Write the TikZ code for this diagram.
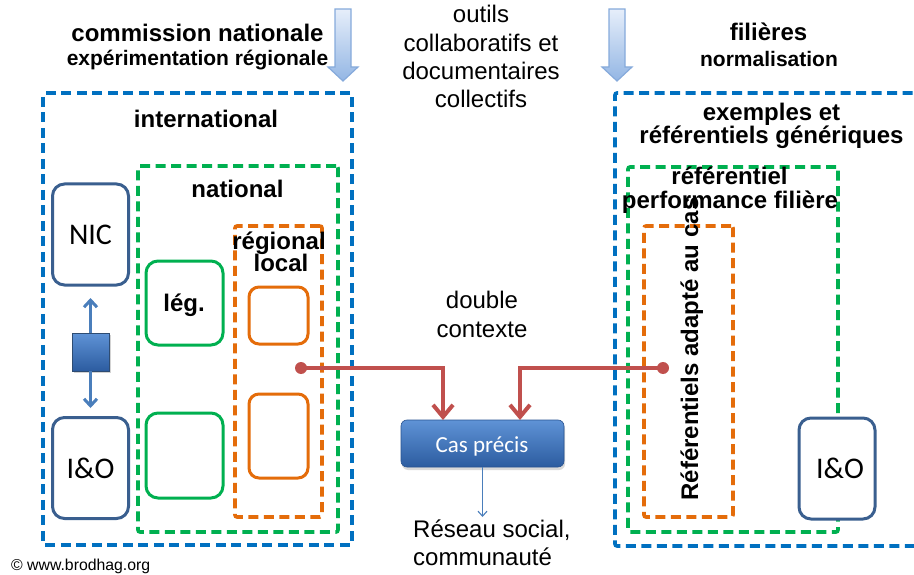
\documentclass[tikz,border=0pt]{standalone}
\usepackage{fontspec}
\setmainfont{Liberation Sans}
\newfontfamily\carlito{Carlito}
\usetikzlibrary{arrows.meta,shadows}
\definecolor{dblue}{HTML}{0070C0}
\definecolor{dgreen}{HTML}{00B050}
\definecolor{dorange}{HTML}{E46C0A}
\definecolor{navy}{HTML}{3A5F8F}
\definecolor{redc}{HTML}{C0504D}
\definecolor{midblue}{HTML}{4A7EBB}
\definecolor{arrtop}{HTML}{E6EEFA}
\definecolor{arrbot}{HTML}{93B6E4}
\definecolor{arredge}{HTML}{86AADB}
\definecolor{castop}{HTML}{5F93D6}
\definecolor{casbot}{HTML}{2C5CA0}
\begin{document}
\begin{tikzpicture}[x=1pt,y=-1pt,
  cont/.style={draw, line width=3.6pt, dash pattern=on 10pt off 5.5pt, rounded corners=2pt, inner sep=0pt},
  bluecont/.style={cont, draw=dblue},
  greencont/.style={cont, draw=dgreen},
  orangecont/.style={cont, draw=dorange},
  navybox/.style={draw=navy, line width=3pt, rounded corners=12pt, fill=white, inner sep=0pt, minimum width=76pt, minimum height=101pt},
  greenbox/.style={draw=dgreen, line width=3pt, rounded corners=12pt, fill=white, inner sep=0pt, minimum width=77pt},
  orangebox/.style={draw=dorange, line width=3pt, rounded corners=10pt, fill=white, inner sep=0pt, minimum width=59pt},
  hb/.style={font=\bfseries\fontsize{24}{24}\selectfont, anchor=base, inner sep=0pt},
  hs/.style={font=\bfseries\fontsize{21}{21}\selectfont, anchor=base, inner sep=0pt},
  tx/.style={font=\fontsize{24}{24}\selectfont, anchor=base, inner sep=0pt},
  cl/.style={font=\carlito\fontsize{30}{30}\selectfont, anchor=base, inner sep=0pt},
  redarr/.style={draw=redc, line width=4pt, -{Straight Barb[length=12pt,width=20pt]}},
  dotc/.style={circle, fill=redc, inner sep=0pt, minimum size=12pt},
  bluearr/.style={draw=midblue, line width=3pt, -{Straight Barb[length=7pt,width=13pt]}},
  bigarrow/.style={top color=arrtop, bottom color=arrbot, draw=arredge, line width=1.2pt}
]
\useasboundingbox (0,0) rectangle (914,575);
\clip (0,0) rectangle (914,575);

% top block arrows
\path[bigarrow] (335,9) -- (351,9) -- (351,67) -- (358,67) -- (343,81) -- (328,67) -- (335,67) -- cycle;
\path[bigarrow] (609,9) -- (625,9) -- (625,67) -- (632,67) -- (617,81) -- (602,67) -- (609,67) -- cycle;

% containers
\node[bluecont, minimum width=309pt, minimum height=452pt] (intl) at (197.5,319) {};
\node[greencont, minimum width=200pt, minimum height=366pt] (natl) at (238,349) {};
\node[orangecont, minimum width=87pt, minimum height=291pt] (regl) at (278.5,371.5) {};
\node[bluecont, minimum width=315pt, minimum height=453pt] (gen) at (772.5,319.5) {};
\node[greencont, minimum width=210pt, minimum height=365pt] (perf) at (733,349.5) {};
\node[orangecont, minimum width=89pt, minimum height=291pt] (adap) at (688.5,371.5) {};

% header texts
\node[hb] (t1) at (197.5,42) {commission nationale};
\node[hs] (t2) at (197.5,66) {expérimentation régionale};
\node[tx] (o1) at (481,23) {outils};
\node[tx] (o2) at (481,52) {collaboratifs et};
\node[tx] (o3) at (481,80) {documentaires};
\node[tx] (o4) at (481,108) {collectifs};
\node[hb] (f1) at (768.5,41) {filières};
\node[hs] (f2) at (769,67) {normalisation};

\node[hb] (lint) at (206,128) {international};
\node[hb] (lnat) at (237.5,198) {national};
\node[hb] (lreg1) at (279,250) {régional};
\node[hb] (lreg2) at (281,272) {local};
\node[hb] (lex1) at (771.5,121) {exemples et};
\node[hb] (lex2) at (771.5,144) {référentiels génériques};
\node[hb] (lrf1) at (729.5,185) {référentiel};
\node[hb] (lrf2) at (730,208) {performance filière};

% left boxes
\node[navybox] (nic) at (90.5,234.5) {};
\node[cl] at (90.5,244) {NIC};
\node[navybox] (io1) at (90.5,468) {};
\node[cl] at (90.5,478) {I\&O};
\node[draw=navy!80!black, line width=0.8pt, top color=castop, bottom color=casbot, minimum width=37pt, minimum height=38pt, inner sep=0pt,
  drop shadow={opacity=0.35, shadow xshift=1.5pt, shadow yshift=-2pt}] (sq) at (90.5,352) {};
\draw[bluearr] (sq.north) -- (90.5,298);
\draw[bluearr] (sq.south) -- (90.5,408);

\node[greenbox, minimum height=84pt] (leg) at (184.5,303) {};
\node[hb] at (184,311) {lég.};
\node[greenbox, minimum height=85pt] (g2) at (184.5,455.5) {};
\node[orangebox, minimum height=57pt] (r1) at (278.5,315.5) {};
\node[orangebox, minimum height=84pt] (r2) at (278.5,436) {};

% right side
\node[navybox] (io2) at (837,468.5) {};
\node[cl] at (840,478) {I\&O};
\node[hb, rotate=90] (radap) at (698,349) {Référentiels adapté au cas};

% center
\node[tx] (dc1) at (482,308) {double};
\node[tx] (dc2) at (482,337) {contexte};
\node[draw=casbot!90!black, line width=0.6pt, rounded corners=6pt, top color=castop, bottom color=casbot,
  minimum width=163pt, minimum height=47pt, inner sep=0pt,
  drop shadow={opacity=0.3, shadow xshift=1pt, shadow yshift=-3pt}] (cas) at (482.5,443.5) {};
\node[font=\carlito\fontsize{23}{23}\selectfont, text=white, anchor=base, inner sep=0pt] at (482,452) {Cas précis};
\node[tx, anchor=base west] (rs1) at (413,537) {Réseau social,};
\node[tx, anchor=base west] (rs2) at (413,565) {communauté};
\coordinate (rstop) at (482.5,517);
\draw[draw=midblue, line width=1.1pt, -{Straight Barb[length=5pt,width=9pt]}] (cas.south) -- (rstop);

% red connectors
\node[dotc] (d1) at (301,368) {};
\node[dotc] (d2) at (663,368) {};
\coordinate (c1) at (443,420);
\coordinate (c2) at (520,420);
\draw[redarr] (d1.center) -| (c1);
\draw[redarr] (d2.center) -| (c2);

\node[font=\fontsize{15.8}{16}\selectfont, anchor=base west, inner sep=0pt] (copy) at (11,570) {© www.brodhag.org};
\end{tikzpicture}
\end{document}
